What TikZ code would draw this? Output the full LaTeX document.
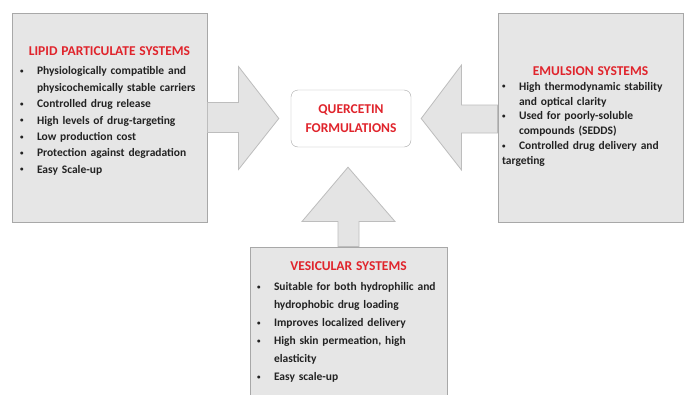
\documentclass[tikz,border=0pt]{standalone}
\usepackage{fontspec}
\setmainfont{Carlito}
\usetikzlibrary{calc,positioning}
\setlength{\parindent}{0pt}
\definecolor{boxgray}{HTML}{E6E6E6}
\definecolor{edgegray}{HTML}{A8A8A8}
\definecolor{arrowgray}{HTML}{E4E4E4}
\definecolor{arrowedge}{HTML}{BDBDBD}
\definecolor{titlered}{HTML}{E0242C}
\definecolor{textdark}{HTML}{222222}
\newcommand{\sysitem}[1]{\par\hangindent=17pt\hangafter=1\makebox[17pt][l]{\raisebox{0.25ex}{\fontsize{7}{7}\selectfont\textbullet}}#1}
\newcommand{\systitle}[2][0pt]{\centerline{\fontsize{13.5}{16}\selectfont\textcolor{titlered}{#2}}\vspace{#1}}
\tikzset{
  sysbox/.style={draw=edgegray,line width=1pt,fill=boxgray},
  systext/.style={inner sep=0,text=textdark,align=left,font=\fontsize{11.5}{#1}\selectfont\bfseries},
  querbox/.style={draw=edgegray,fill=white,rounded corners=7,align=center,text=titlered,
    minimum width=120,minimum height=57,font=\fontsize{13.5}{19}\selectfont\bfseries},
  blockarrow/.style={draw=arrowedge,fill=arrowgray,line width=0.8pt,line join=miter}
}
\begin{document}
\begin{tikzpicture}[x=1pt,y=-1pt]
\useasboundingbox[fill=white] (0,0) rectangle (685,394);
\node[sysbox,minimum width=195,minimum height=209] (lipid) at (109.5,117.5) {};
\node[sysbox,minimum width=185,minimum height=209] (emul) at (590.5,117.5) {};
\node[sysbox,minimum width=197,minimum height=150] (vesic) at (348.5,322) {};
\node[systext=16.4,text width=179,below=34pt of lipid.north] (lipidtext) {\systitle[3pt]{LIPID PARTICULATE SYSTEMS}
\sysitem{Physiologically compatible and\newline physicochemically stable carriers}
\sysitem{Controlled drug release}
\sysitem{High levels of drug-targeting}
\sysitem{Low production cost}
\sysitem{Protection against degradation}
\sysitem{Easy Scale-up}};
\node[systext=14.8,text width=177,below=54pt of emul.north] (emultext) {\systitle{EMULSION SYSTEMS}
\sysitem{High thermodynamic stability\newline and optical clarity}
\sysitem{Used for poorly-soluble\newline compounds (SEDDS)}
\sysitem{Controlled drug delivery and\newline targeting}};
\node[systext=18,text width=183,below=15pt of vesic.north] (vesictext) {\systitle[2pt]{VESICULAR SYSTEMS}
\sysitem{Suitable for both hydrophilic and\newline hydrophobic drug loading}
\sysitem{Improves localized delivery}
\sysitem{High skin permeation, high\newline elasticity}
\sysitem{Easy scale-up}};
\node[querbox] (quer) at (351,118.5) {QUERCETIN\\FORMULATIONS};
\draw[blockarrow] ($(lipid.east)+(0,-15)$) -- ++(31,0) -- ++(0,-36) -- ($(quer.west)+(-12,0)$) -- ($(lipid.east)+(31,52)$) -- ++(0,-37) -- ($(lipid.east)+(0,15)$) -- cycle;
\draw[blockarrow] ($(emul.west)+(0,-12.5)$) -- ++(-36,0) -- ++(0,-40) -- ($(quer.east)+(10,0)$) -- ($(emul.west)+(-36,52.5)$) -- ++(0,-37) -- ($(emul.west)+(0,15.5)$) -- cycle;
\draw[blockarrow] ($(vesic.north)+(-10.5,0)$) -- ++(0,-25) -- ++(-36,0) -- ($(quer.south)+(-3,20)$) -- ($(vesic.north)+(46.5,-25)$) -- ++(-36,0) -- ($(vesic.north)+(10.5,0)$) -- cycle;
\end{tikzpicture}
\end{document}
